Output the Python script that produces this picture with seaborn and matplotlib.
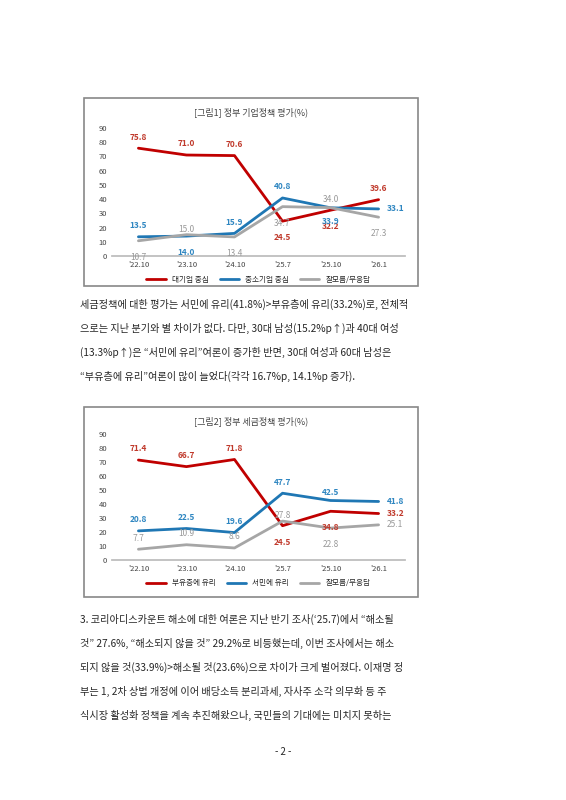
import matplotlib
matplotlib.use("Agg")
import matplotlib.pyplot as plt
import pandas as pd
import seaborn as sns
from matplotlib.patches import Rectangle

sns.set_theme(style="white")
plt.rcParams["font.family"] = ["Noto Sans CJK KR", "DejaVu Sans"]

periods = ["'22.10", "'23.10", "'24.10", "'25.7", "'25.10", "'26.1"]

# chart 1: 정부 기업정책 평가
c1_names = ["대기업 중심", "중소기업 중심", "잘모름/무응답"]
c1_big = [75.8, 71.0, 70.6, 24.5, 32.2, 39.6]
c1_small = [13.5, 14.0, 15.9, 40.8, 33.9, 33.1]
c1_dk = [10.7, 15.0, 13.4, 34.7, 34.0, 27.3]

# chart 2: 정부 세금정책 평가
c2_names = ["부유층에 유리", "서민에 유리", "잘모름/무응답"]
c2_rich = [71.4, 66.7, 71.8, 24.5, 34.8, 33.2]
c2_poor = [20.8, 22.5, 19.6, 47.7, 42.5, 41.8]
c2_dk = [7.7, 10.9, 8.6, 27.8, 22.8, 25.1]

colors = ["#c00000", "#1f77b4", "#a6a6a6"]
label_colors = ["#c0392b", "#2e86c1", "#999999"]

# label offsets (points) per series/point
off1 = [
    [(0, 8), (0, 8), (0, 8), (0, -12), (0, -12), (0, 8)],
    [(0, 8), (0, -12), (0, 8), (0, 8), (0, -10), (12, 0)],
    [(0, -12), (0, 4), (0, -12), (0, -12), (0, 6), (0, -12)],
]
off2 = [
    [(0, 8), (0, 8), (0, 8), (0, -12), (0, -12), (12, 0)],
    [(0, 8), (0, 8), (0, 8), (0, 8), (0, 6), (12, 0)],
    [(0, 8), (0, 8), (0, 8), (0, 4), (0, -12), (12, 0)],
]

W, H = 566, 800
fig = plt.figure(figsize=(W / 100, H / 100), dpi=100)


def px(x0, y0, x1, y1):
    return [x0 / W, 1 - y1 / H, (x1 - x0) / W, (y1 - y0) / H]


def chart(box, plot, title, names, series, offs):
    fig.patches.append(Rectangle((box[0] / W, 1 - box[3] / H), (box[2] - box[0]) / W,
                                 (box[3] - box[1]) / H, transform=fig.transFigure,
                                 fill=False, edgecolor="#888888", lw=1.2))
    fig.text((box[0] + box[2]) / 2 / W, 1 - (box[1] + 14) / H, title, ha="center",
             va="center", fontsize=6.5, color="#444444")
    ax = fig.add_axes(px(*plot))
    df = pd.DataFrame({"period": periods * 3,
                       "value": sum(series, []),
                       "series": sum([[n] * 6 for n in names], [])})
    sns.lineplot(data=df, x="period", y="value", hue="series", palette=colors,
                 linewidth=2, sort=False, ax=ax)
    for vals, so, lc in zip(series, offs, label_colors):
        for i, v in enumerate(vals):
            ax.annotate(f"{v:.1f}", (i, v), xytext=so[i], textcoords="offset points",
                        ha="center", va="center", fontsize=6, color=lc,
                        fontweight="bold" if lc != "#999999" else "normal")
    ax.set_ylim(0, 90)
    ax.set_yticks(range(0, 91, 10))
    ax.set_xlim(-0.55, 5.55)
    ax.set_xlabel("")
    ax.set_ylabel("")
    ax.tick_params(labelsize=5.5, colors="#444444", length=0)
    for s in ["top", "right", "left"]:
        ax.spines[s].set_visible(False)
    ax.spines["bottom"].set_color("#bbbbbb")
    ax.legend(loc="upper center", bbox_to_anchor=(0.5, -0.1), ncol=3, frameon=False,
              fontsize=5.5, handlelength=2.5, columnspacing=1.5)


chart((84, 98, 418, 286), (112, 128, 405, 256), "[그림1] 정부 기업정책 평가(%)",
      c1_names, [c1_big, c1_small, c1_dk], off1)
chart((84, 407, 418, 597), (112, 434, 405, 560), "[그림2] 정부 세금정책 평가(%)",
      c2_names, [c2_rich, c2_poor, c2_dk], off2)

para1 = [
    "세금정책에 대한 평가는 서민에 유리(41.8%)>부유층에 유리(33.2%)로, 전체적",
    "으로는 지난 분기와 별 차이가 없다. 다만, 30대 남성(15.2%p↑)과 40대 여성",
    "(13.3%p↑)은 “서민에 유리”여론이 증가한 반면, 30대 여성과 60대 남성은",
    "“부유층에 유리”여론이 많이 늘었다(각각 16.7%p, 14.1%p 증가).",
]
para2 = [
    "3. 코리아디스카운트 해소에 대한 여론은 지난 반기 조사(‘25.7)에서 “해소될",
    "것” 27.6%, “해소되지 않을 것” 29.2%로 비등했는데, 이번 조사에서는 해소",
    "되지 않을 것(33.9%)>해소될 것(23.6%)으로 차이가 크게 벌어졌다. 이재명 정",
    "부는 1, 2차 상법 개정에 이어 배당소득 분리과세, 자사주 소각 의무화 등 주",
    "식시장 활성화 정책을 계속 추진해왔으나, 국민들의 기대에는 미치지 못하는",
]
for i, line in enumerate(para1):
    fig.text(80 / W, 1 - (304 + i * 24) / H, line, fontsize=7.3, va="center",
             family=["Noto Sans CJK KR", "DejaVu Sans"])
for i, line in enumerate(para2):
    fig.text(80 / W, 1 - (619 + i * 24) / H, line, fontsize=7.3, va="center",
             family=["Noto Sans CJK KR", "DejaVu Sans"])
fig.text(0.5, 1 - 752 / H, "- 2 -", ha="center", va="center", fontsize=7)

fig.savefig("out.png", dpi=100)
